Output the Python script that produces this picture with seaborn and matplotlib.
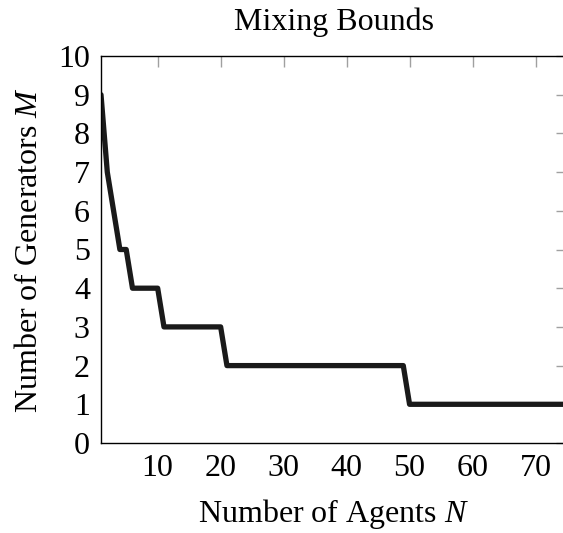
import numpy as np
import pandas as pd
import matplotlib
matplotlib.use("Agg")
import matplotlib.pyplot as plt
import seaborn as sns

# values
agents = [1, 2, 3, 4, 5, 6, 10, 11, 20, 21, 49, 50, 75]
generators = [9, 7, 6, 5, 5, 4, 4, 3, 3, 2, 2, 1, 1]
x_ticks = [10, 20, 30, 40, 50, 60, 70]
y_ticks = list(range(0, 11))

sns.set_style("white")
plt.rcParams['font.family'] = ['Liberation Serif', 'DejaVu Serif']
plt.rcParams['mathtext.fontset'] = 'custom'
plt.rcParams['mathtext.rm'] = 'Liberation Serif'
plt.rcParams['mathtext.it'] = 'Liberation Serif:italic'
plt.rcParams['text.color'] = 'black'
plt.rcParams['axes.labelcolor'] = 'black'
plt.rcParams['xtick.labelcolor'] = 'black'
plt.rcParams['ytick.labelcolor'] = 'black'

df = pd.DataFrame({"N": agents, "M": generators})

fig = plt.figure(figsize=(5.63, 5.33), dpi=100)
ax = fig.add_axes([101 / 563, 1 - 443 / 533, 466 / 563, 387 / 533])
sns.lineplot(data=df, x="N", y="M", ax=ax, color="#1a1a1a", linewidth=3.8)

ax.set_xlim(1, 75)
ax.set_ylim(0, 10)
ax.set_xticks(x_ticks)
ax.set_yticks(y_ticks)
ax.tick_params(direction="in", length=8, width=1, color="#a0a0a0",
               top=True, right=True, labelsize=23, pad=8)
for s in ax.spines.values():
    s.set_color("black")
    s.set_linewidth(1)
    s.set_visible(True)

ax.set_xlabel("Number of Agents $N$", fontsize=23, labelpad=10)
ax.set_ylabel("Number of Generators $M$", fontsize=23, labelpad=10)
ax.set_title("Mixing Bounds", fontsize=23, pad=19)

fig.savefig("out.png", dpi=100)
